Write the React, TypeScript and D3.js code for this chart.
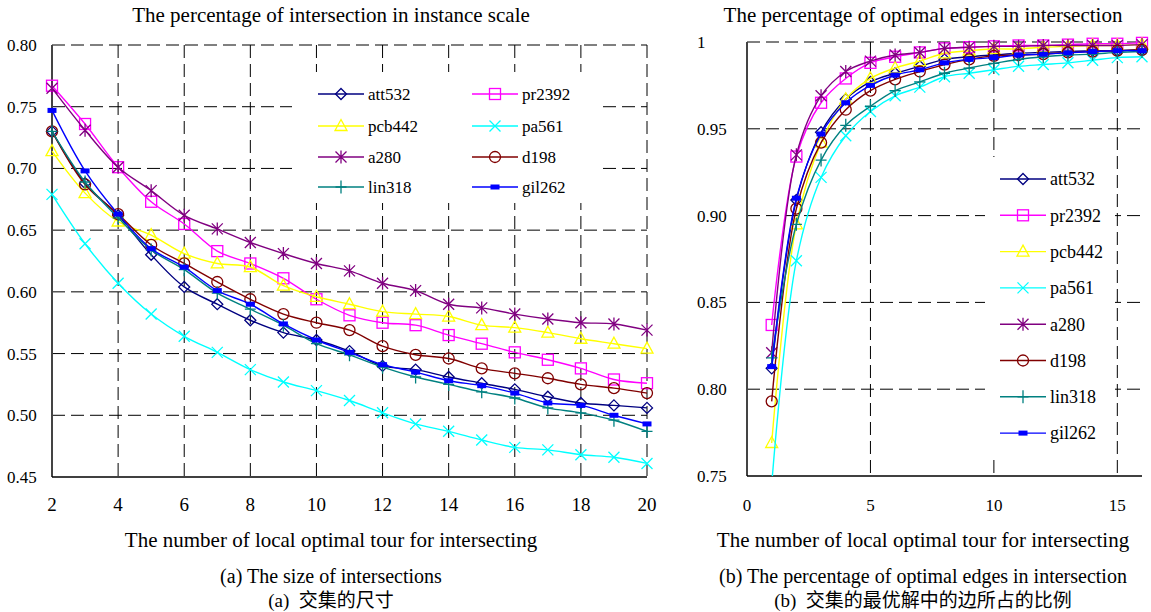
import React from "react";
import * as d3 from "d3";

const W = 1151;
const H = 612;

// categories
const leftX = [2, 3, 4, 5, 6, 7, 8, 9, 10, 11, 12, 13, 14, 15, 16, 17, 18, 19, 20];
const rightX = [1, 2, 3, 4, 5, 6, 7, 8, 9, 10, 11, 12, 13, 14, 15, 16];

const seriesNames = ["att532", "pr2392", "pcb442", "pa561", "a280", "d198", "lin318", "gil262"];
const seriesColors = ["#000080", "#ff00ff", "#ffff00", "#00ffff", "#800080", "#800000", "#008080", "#0000ff"];
const seriesShapes = ["diamond", "square", "triangle", "cross", "star", "circle", "plus", "bar"];

// (a) size of intersections
const leftAtt532 = [0.730, 0.688, 0.662, 0.630, 0.604, 0.590, 0.577, 0.567, 0.561, 0.552, 0.540, 0.537, 0.531, 0.526, 0.521, 0.515, 0.510, 0.508, 0.506];
const leftPr2392 = [0.767, 0.736, 0.701, 0.673, 0.655, 0.633, 0.623, 0.611, 0.594, 0.581, 0.575, 0.573, 0.565, 0.558, 0.551, 0.545, 0.538, 0.529, 0.526];
const leftPcb442 = [0.714, 0.680, 0.657, 0.646, 0.631, 0.623, 0.620, 0.605, 0.596, 0.590, 0.584, 0.582, 0.580, 0.573, 0.571, 0.567, 0.562, 0.558, 0.554];
const leftPa561 = [0.679, 0.639, 0.607, 0.582, 0.564, 0.551, 0.537, 0.527, 0.520, 0.512, 0.502, 0.493, 0.487, 0.480, 0.474, 0.472, 0.468, 0.466, 0.461];
const leftA280 = [0.765, 0.731, 0.701, 0.682, 0.662, 0.651, 0.640, 0.631, 0.623, 0.617, 0.607, 0.601, 0.590, 0.587, 0.582, 0.578, 0.575, 0.574, 0.569];
const leftD198 = [0.730, 0.687, 0.663, 0.638, 0.623, 0.608, 0.594, 0.582, 0.575, 0.569, 0.556, 0.549, 0.546, 0.538, 0.534, 0.530, 0.525, 0.522, 0.518];
const leftLin318 = [0.730, 0.689, 0.660, 0.634, 0.618, 0.599, 0.586, 0.573, 0.558, 0.549, 0.539, 0.531, 0.525, 0.519, 0.514, 0.506, 0.502, 0.496, 0.487];
const leftGil262 = [0.747, 0.698, 0.663, 0.635, 0.620, 0.601, 0.590, 0.574, 0.561, 0.551, 0.541, 0.535, 0.528, 0.524, 0.518, 0.510, 0.508, 0.500, 0.493];

// (b) percentage of optimal edges
const rightAtt532 = [0.812, 0.909, 0.948, 0.967, 0.977, 0.982, 0.986, 0.990, 0.9915, 0.9925, 0.9935, 0.994, 0.9945, 0.995, 0.995, 0.9955];
const rightPr2392 = [0.837, 0.934, 0.965, 0.979, 0.988, 0.9915, 0.994, 0.9963, 0.997, 0.9975, 0.998, 0.998, 0.9985, 0.999, 0.999, 0.9995];
const rightPcb442 = [0.769, 0.895, 0.942, 0.967, 0.979, 0.985, 0.989, 0.9935, 0.995, 0.996, 0.996, 0.997, 0.9975, 0.998, 0.998, 0.9985];
const rightPa561 = [0.745, 0.874, 0.922, 0.946, 0.960, 0.969, 0.974, 0.980, 0.982, 0.984, 0.986, 0.987, 0.988, 0.9895, 0.991, 0.9915];
const rightA280 = [0.821, 0.935, 0.969, 0.983, 0.989, 0.9925, 0.994, 0.9963, 0.997, 0.9975, 0.9975, 0.998, 0.998, 0.998, 0.998, 0.9985];
const rightD198 = [0.793, 0.904, 0.942, 0.961, 0.972, 0.9785, 0.983, 0.987, 0.990, 0.992, 0.9925, 0.993, 0.994, 0.9945, 0.995, 0.9955];
const rightLin318 = [0.818, 0.895, 0.932, 0.952, 0.963, 0.972, 0.977, 0.982, 0.985, 0.9877, 0.990, 0.9915, 0.9925, 0.993, 0.994, 0.9945];
const rightGil262 = [0.813, 0.910, 0.947, 0.965, 0.975, 0.981, 0.984, 0.988, 0.990, 0.991, 0.9925, 0.993, 0.9938, 0.9945, 0.995, 0.995];

const leftValues = [leftAtt532, leftPr2392, leftPcb442, leftPa561, leftA280, leftD198, leftLin318, leftGil262];
const rightValues = [rightAtt532, rightPr2392, rightPcb442, rightPa561, rightA280, rightD198, rightLin318, rightGil262];

// ticks
const leftYTicks = [0.45, 0.5, 0.55, 0.6, 0.65, 0.7, 0.75, 0.8];
const leftYLabels = ["0.45", "0.50", "0.55", "0.60", "0.65", "0.70", "0.75", "0.80"];
const leftXTicks = [2, 4, 6, 8, 10, 12, 14, 16, 18, 20];
const rightYTicks = [0.75, 0.8, 0.85, 0.9, 0.95, 1];
const rightYLabels = ["0.75", "0.80", "0.85", "0.90", "0.95", "1"];
const rightXTicks = [0, 5, 10, 15];

const SERIF = "'Liberation Serif', 'Times New Roman', serif";
const CJK = "'Noto Sans CJK SC', sans-serif";
const DASH = "13,6";

function Marker({ shape, x, y, color }: { shape: string; x: number; y: number; color: string }) {
  const r = 5.5;
  const sw = 1.3;
  switch (shape) {
    case "diamond":
      return <path d={`M${x},${y - r}L${x + r},${y}L${x},${y + r}L${x - r},${y}Z`} fill="none" stroke={color} strokeWidth={sw} />;
    case "square":
      return <rect x={x - r} y={y - r} width={2 * r} height={2 * r} fill="none" stroke={color} strokeWidth={sw} />;
    case "triangle":
      return <path d={`M${x},${y - r - 1}L${x + r + 0.5},${y + r - 1}L${x - r - 0.5},${y + r - 1}Z`} fill="none" stroke={color} strokeWidth={sw} />;
    case "cross":
      return <path d={`M${x - r},${y - r}L${x + r},${y + r}M${x - r},${y + r}L${x + r},${y - r}`} stroke={color} strokeWidth={sw} />;
    case "star":
      return <path d={`M${x - r},${y - r}L${x + r},${y + r}M${x - r},${y + r}L${x + r},${y - r}M${x},${y - r - 1}L${x},${y + r + 1}`} stroke={color} strokeWidth={sw} />;
    case "circle":
      return <circle cx={x} cy={y} r={r} fill="none" stroke={color} strokeWidth={sw} />;
    case "plus":
      return <path d={`M${x - r},${y}L${x + r},${y}M${x},${y - r - 1}L${x},${y + r + 1}`} stroke={color} strokeWidth={sw} />;
    default:
      return <rect x={x - 4.5} y={y - 2.5} width={9} height={5} fill={color} />;
  }
}

type PanelProps = {
  id: string;
  xs: number[];
  values: number[][];
  xDomain: [number, number];
  xRange: [number, number];
  yDomain: [number, number];
  yRange: [number, number];
  xTicks: number[];
  xGrid: number[];
  xTickSize: number;
  yTicks: number[];
  yLabels: string[];
  yGrid: number[];
  yLabelX: number;
  legendBox: { x: number; y: number; w: number; h: number };
  legendPos: { lineX: number; y: number }[];
  legendFont: number;
  title: string;
  captionEn: string;
  captionZh: string;
  centerX: number;
  clip: boolean;
};

function Panel(p: PanelProps) {
  const x = d3.scaleLinear().domain(p.xDomain).range(p.xRange);
  const y = d3.scaleLinear().domain(p.yDomain).range(p.yRange);
  const [x0, x1] = p.xRange;
  const [yb, yt] = p.yRange;
  const line = d3
    .line<number>()
    .x((_, i) => x(p.xs[i]))
    .y((d) => y(d))
    .curve(d3.curveCatmullRom.alpha(0.5));
  const clipId = `clip-${p.id}`;

  return (
    <g>
      {p.clip && (
        <defs>
          <clipPath id={clipId}>
            <rect x={x0} y={yt - 14} width={W - x0} height={yb - yt + 14} />
          </clipPath>
        </defs>
      )}
      {/* title */}
      <text x={p.centerX} y={22} textAnchor="middle" fontFamily={SERIF} fontSize={21}>
        {p.title}
      </text>

      {/* grid */}
      {p.yGrid.map((t) => (
        <line key={`hy${t}`} x1={x0} x2={x1} y1={y(t)} y2={y(t)} stroke="#000" strokeWidth={1} strokeDasharray={DASH} />
      ))}
      {p.xGrid.map((t) => (
        <line key={`vx${t}`} x1={x(t)} x2={x(t)} y1={yt} y2={yb} stroke="#000" strokeWidth={1} strokeDasharray={DASH} />
      ))}

      {/* legend box covers grid */}
      <rect x={p.legendBox.x} y={p.legendBox.y} width={p.legendBox.w} height={p.legendBox.h} fill="#fff" />

      {/* axes */}
      <line x1={x0} x2={x0} y1={yt} y2={yb} stroke="#444" strokeWidth={2} />
      <line x1={x0} x2={x1} y1={yb} y2={yb} stroke="#000" strokeWidth={1.5} />

      {p.yTicks.map((t, i) => (
        <text key={`yl${t}`} x={p.yLabelX} y={y(t)} dy="0.35em" fontFamily={SERIF} fontSize={17}>
          {p.yLabels[i]}
        </text>
      ))}
      {p.xTicks.map((t) => (
        <text key={`xl${t}`} x={x(t)} y={511} textAnchor="middle" fontFamily={SERIF} fontSize={p.xTickSize}>
          {t}
        </text>
      ))}

      {/* series */}
      <g clipPath={p.clip ? `url(#${clipId})` : undefined}>
        {p.values.map((vals, si) => (
          <g key={seriesNames[si]}>
            <path d={line(vals) || ""} fill="none" stroke={seriesColors[si]} strokeWidth={1.4} />
            {vals.map((v, i) => (
              <Marker key={i} shape={seriesShapes[si]} x={x(p.xs[i])} y={y(v)} color={seriesColors[si]} />
            ))}
          </g>
        ))}
      </g>

      {/* legend */}
      {p.legendPos.map((lp, si) => (
        <g key={`lg${si}`}>
          <line x1={lp.lineX} x2={lp.lineX + 46} y1={lp.y} y2={lp.y} stroke={seriesColors[si]} strokeWidth={1.4} />
          <Marker shape={seriesShapes[si]} x={lp.lineX + 23} y={lp.y} color={seriesColors[si]} />
          <text x={lp.lineX + 50} y={lp.y} dy="0.35em" fontFamily={SERIF} fontSize={p.legendFont}>
            {seriesNames[si]}
          </text>
        </g>
      ))}

      {/* axis title and captions */}
      <text x={p.centerX} y={547} textAnchor="middle" fontFamily={SERIF} fontSize={21}>
        The number of local optimal tour for intersecting
      </text>
      <text x={p.centerX} y={583} textAnchor="middle" fontFamily={SERIF} fontSize={20}>
        {p.captionEn}
      </text>
      <text x={p.centerX} y={607} textAnchor="middle" fontSize={19} style={{ whiteSpace: "pre" }}>
        <tspan fontFamily={SERIF}>{p.captionZh.slice(0, 3) + "  "}</tspan>
        <tspan fontFamily={CJK}>{p.captionZh.slice(4)}</tspan>
      </text>
    </g>
  );
}

export default function App() {
  const leftLegend = [
    { lineX: 318, y: 94 },
    { lineX: 472, y: 94 },
    { lineX: 318, y: 126 },
    { lineX: 472, y: 126 },
    { lineX: 318, y: 157 },
    { lineX: 472, y: 157 },
    { lineX: 318, y: 187 },
    { lineX: 472, y: 187 },
  ];
  const rightLegend = seriesNames.map((_, i) => ({ lineX: 1000, y: 179 + i * 36.3 }));

  return (
    <svg width={W} height={H} style={{ position: "absolute", left: 0, top: 0, background: "#fff" }}>
      <rect width={W} height={H} fill="#fff" />
      <Panel
        id="a"
        xs={leftX}
        values={leftValues}
        xDomain={[2, 20]}
        xRange={[52, 647]}
        yDomain={[0.45, 0.8]}
        yRange={[477, 45]}
        xTicks={leftXTicks}
        xGrid={leftXTicks.slice(1)}
        xTickSize={19}
        yTicks={leftYTicks}
        yLabels={leftYLabels}
        yGrid={leftYTicks.slice(1)}
        yLabelX={7}
        legendBox={{ x: 292, y: 72, w: 305, h: 131 }}
        legendPos={leftLegend}
        legendFont={17}
        title="The percentage of intersection in instance scale"
        captionEn="(a) The size of intersections"
        captionZh="(a) 交集的尺寸"
        centerX={331}
        clip={false}
      />
      <Panel
        id="b"
        xs={rightX}
        values={rightValues}
        xDomain={[0, 16]}
        xRange={[747, 1142]}
        yDomain={[0.75, 1]}
        yRange={[476, 42]}
        xTicks={rightXTicks}
        xGrid={rightXTicks.slice(1)}
        xTickSize={17}
        yTicks={rightYTicks}
        yLabels={rightYLabels}
        yGrid={rightYTicks.slice(1)}
        yLabelX={697}
        legendBox={{ x: 985, y: 157, w: 130, h: 300 }}
        legendPos={rightLegend}
        legendFont={18}
        title="The percentage of optimal edges in intersection"
        captionEn="(b) The percentage of optimal edges in intersection"
        captionZh="(b) 交集的最优解中的边所占的比例"
        centerX={923}
        clip={true}
      />
    </svg>
  );
}
